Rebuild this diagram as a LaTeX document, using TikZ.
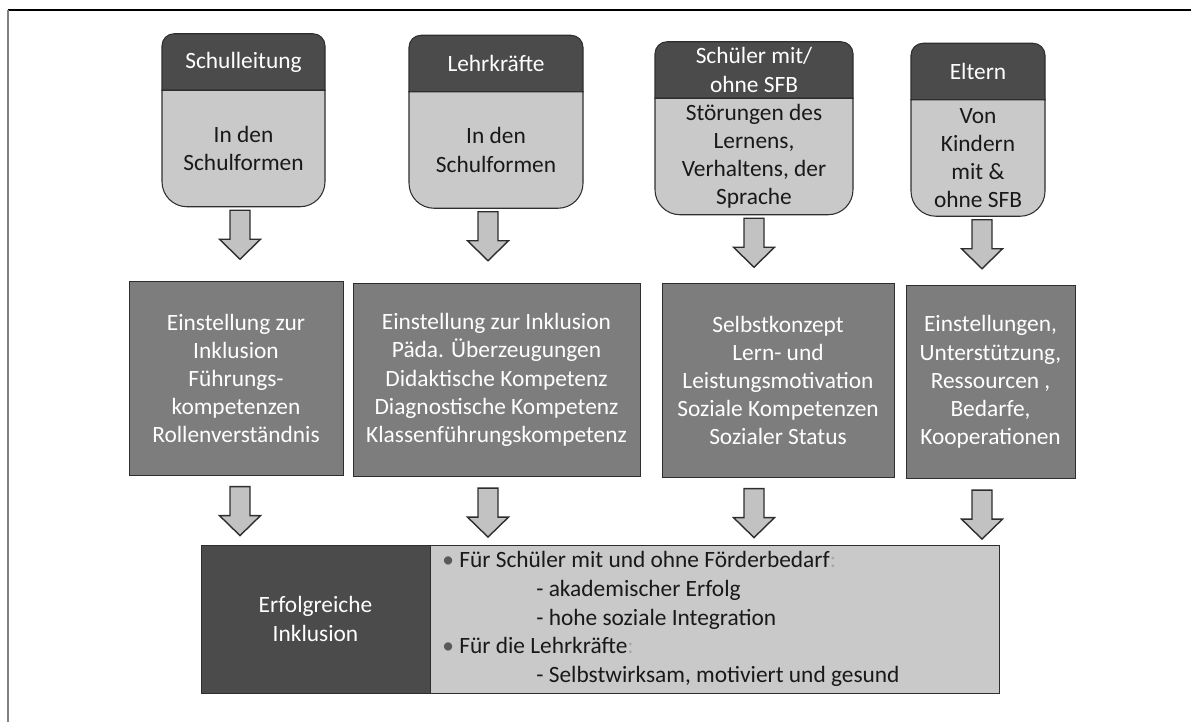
\documentclass[tikz,border=0pt]{standalone}
\usepackage{fontspec}
\setmainfont{Carlito}
\usetikzlibrary{positioning,backgrounds}
\definecolor{headgray}{HTML}{4B4B4B}
\definecolor{bodygray}{HTML}{C9C9C9}
\definecolor{midgray}{HTML}{7D7D7D}
\definecolor{arrowgray}{HTML}{C2C2C2}
\definecolor{edgegray}{HTML}{2E2E2E}
\definecolor{colongray}{HTML}{A3AAB2}
\tikzset{
  headbox/.style={align=center, text=white, inner sep=0pt, outer sep=0pt,
    minimum height=1.13cm, font=\fontsize{13.3}{16}\selectfont},
  groupbox/.style={align=center, text=black!90, inner sep=0pt, outer sep=0pt,
    minimum height=2.33cm, font=\fontsize{13.3}{16}\selectfont},
  factorbox/.style={draw=edgegray, fill=midgray, align=center, text=white,
    inner sep=0pt, minimum height=3.87cm, font=\fontsize{13.3}{16}\selectfont},
  goalbox/.style={draw=edgegray, inner sep=0pt, outer sep=0pt,
    minimum height=2.96cm, font=\fontsize{13.3}{16}\selectfont},
  downarrow/.pic={\filldraw[fill=arrowgray, draw=edgegray, line width=0.8pt]
    (-0.2,0) -- (0.2,0) -- (0.2,-0.58) -- (0.41,-0.58) -- (0,-0.98)
    -- (-0.41,-0.58) -- (-0.2,-0.58) -- cycle;}
}

\begin{document}
\begin{tikzpicture}
  \useasboundingbox (0,0) rectangle (23.82,-14.44);
  \draw[black, line width=1.2pt] (0.16,-0.2) -- (23.82,-0.2);
  \draw[gray, line width=1.4pt] (0.16,-0.2) -- (0.16,-14.44);

  % groups
  \node[headbox, minimum width=3.26cm] (h1) at (4.87,-1.24) {Schulleitung};
  \node[groupbox, minimum width=3.26cm, below=0pt of h1] (b1) {In den\\Schulformen};
  \node[headbox, minimum width=3.48cm] (h2) at (9.92,-1.27) {Lehrkräfte};
  \node[groupbox, minimum width=3.48cm, below=0pt of h2] (b2) {In den\\Schulformen};
  \node[headbox, minimum width=3.96cm] (h3) at (15.08,-1.40) {Schüler mit/\\ohne SFB};
  \node[groupbox, minimum width=3.96cm, below=0pt of h3] (b3)
    {Störungen des\\Lernens,\\Verhaltens, der\\Sprache};
  \node[headbox, minimum width=2.68cm] (h4) at (19.56,-1.43) {Eltern};
  \node[groupbox, minimum width=2.68cm, below=0pt of h4] (b4)
    {Von\\Kindern\\mit \&\\ohne SFB};

  \begin{scope}[on background layer]
    \foreach \n in {1,...,4}{
      \filldraw[fill=headgray, draw=edgegray, line width=0.6pt] (h\n.south west)
        [rounded corners=0.24cm] -- (h\n.north west) -- (h\n.north east)
        [sharp corners] -- (h\n.south east) -- cycle;
      \filldraw[fill=bodygray, draw=edgegray, line width=0.6pt] (b\n.north west)
        [rounded corners=0.5cm] -- (b\n.south west) -- (b\n.south east)
        [sharp corners] -- (b\n.north east) -- cycle;
    }
  \end{scope}

  % factors
  \node[factorbox, minimum width=4.28cm] (m1) at (4.72,-7.57)
    {Einstellung zur\\Inklusion\\Führungs-\\kompetenzen\\Rollenverständnis};
  \node[factorbox, minimum width=5.74cm] (m2) at (9.93,-7.60)
    {Einstellung zur Inklusion\\Päda. Überzeugungen\\Didaktische Kompetenz\\Diagnostische Kompetenz\\Klassenführungskompetenz};
  \node[factorbox, minimum width=4.64cm] (m3) at (15.56,-7.61)
    {Selbstkonzept\\Lern- und\\Leistungsmotivation\\Soziale Kompetenzen\\Sozialer Status};
  \node[factorbox, minimum width=3.38cm] (m4) at (19.81,-7.64)
    {Einstellungen,\\Unterstützung,\\Ressourcen ,\\Bedarfe,\\Kooperationen};

  % outcome
  \node[goalbox, fill=headgray, text=white, align=center, minimum width=4.58cm]
    (ok) at (6.31,-12.38) {Erfolgreiche\\Inklusion};
  \node[goalbox, fill=bodygray, minimum width=11.38cm, right=0pt of ok] (res) {};
  \node[anchor=west, align=left, inner sep=0pt, text=black!90,
    font=\fontsize{13.3}{16.4}\selectfont] (restext) at ([xshift=0.24cm]res.west)
    {\makebox[0.34cm][l]{\textcolor{black!65}{•}}Für Schüler mit und ohne Förderbedarf\textcolor{colongray}{:}\\
     \hspace*{1.88cm}- akademischer Erfolg\\
     \hspace*{1.88cm}- hohe soziale Integration\\
     \makebox[0.34cm][l]{\textcolor{black!65}{•}}Für die Lehrkräfte\textcolor{colongray}{:}\\
     \hspace*{1.88cm}- Selbstwirksam, motiviert und gesund};

  % arrows
  \coordinate (s1) at ([xshift=-0.07cm, yshift=-0.07cm]b1.south);
  \coordinate (s2) at ([xshift=-0.16cm, yshift=-0.07cm]b2.south);
  \coordinate (s3) at ([yshift=-0.07cm]b3.south);
  \coordinate (s4) at ([xshift=0.08cm, yshift=-0.07cm]b4.south);
  \foreach \n in {1,...,4}{
    \path (s\n) pic {downarrow};
    \path ([yshift=-0.22cm]s\n |- m\n.south) pic {downarrow};
  }
\end{tikzpicture}
\end{document}
